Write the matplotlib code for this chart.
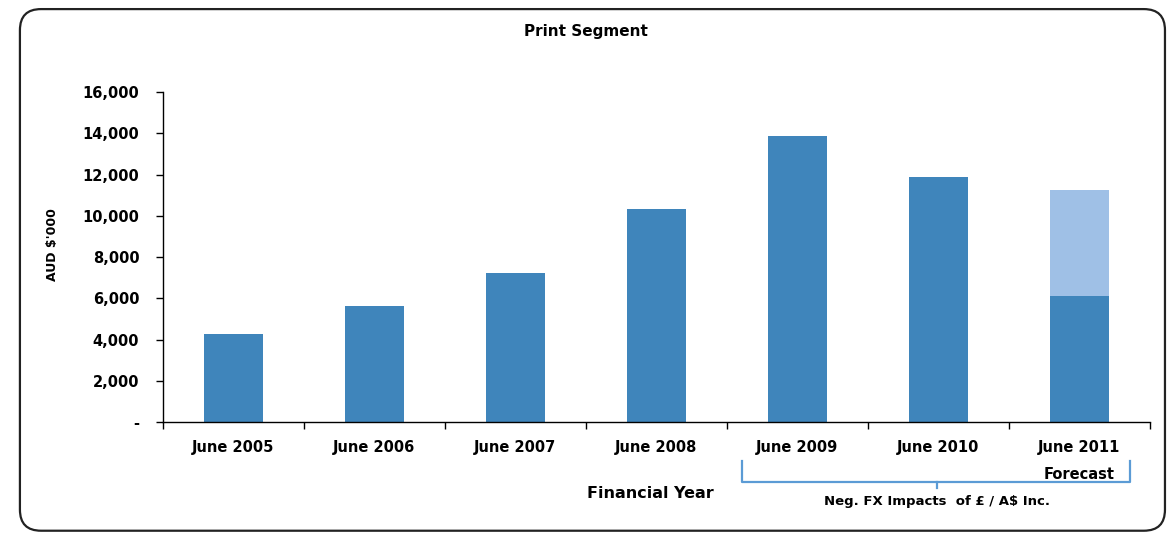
import matplotlib.pyplot as plt
from matplotlib.patches import FancyBboxPatch
from matplotlib.ticker import FuncFormatter

# Print segment revenue by financial year (AUD $'000)
years = ["June 2005", "June 2006", "June 2007", "June 2008",
         "June 2009", "June 2010", "June 2011"]
revenue = [4250, 5650, 7250, 10350, 13850, 11900, 6100]
forecast_extra = [0, 0, 0, 0, 0, 0, 5150]
y_ticks = [0, 2000, 4000, 6000, 8000, 10000, 12000, 14000, 16000]

base_color = "#3f85bb"
light_color = "#9fc0e6"
bracket_color = "#5b9bd5"

plt.rcParams["font.family"] = ["DejaVu Sans"]

fig = plt.figure(figsize=(11.72, 5.35), dpi=100)
ax = fig.add_axes([0.139, 0.211, 0.842, 0.617])

# Rounded frame around the whole chart
frame = FancyBboxPatch((0.017, 0.008), 0.977, 0.975,
                       boxstyle="round,pad=0,rounding_size=0.018",
                       transform=fig.transFigure, fill=False,
                       edgecolor="#222222", linewidth=1.6,
                       mutation_aspect=1172 / 535)
fig.patches.append(frame)

x = list(range(len(years)))
ax.bar(x, revenue, width=0.42, color=base_color, zorder=2)
ax.bar(x, forecast_extra, width=0.42, bottom=revenue,
       color=light_color, zorder=2)

ax.set_xlim(-0.5, len(years) - 0.5)
ax.set_ylim(0, 16000)
ax.set_yticks(y_ticks)
ax.yaxis.set_major_formatter(
    FuncFormatter(lambda v, p: "-" if v == 0 else f"{int(v):,}"))

# Category labels sit between boundary tick marks
ax.set_xticks([i - 0.5 for i in range(len(years) + 1)])
ax.set_xticklabels([])
ax.tick_params(axis="x", direction="out", length=5, width=1)
ax.tick_params(axis="y", direction="out", length=5, width=1,
               labelsize=10.5, pad=12)
for lbl in ax.get_yticklabels():
    lbl.set_fontweight("bold")
for i, name in enumerate(years):
    ax.text(i, -0.055, name, transform=ax.get_xaxis_transform(),
            ha="center", va="top", fontsize=10.5, fontweight="bold")
ax.text(6, -0.135, "Forecast", transform=ax.get_xaxis_transform(),
        ha="center", va="top", fontsize=10.5, fontweight="bold")

for side in ["top", "right"]:
    ax.spines[side].set_visible(False)
ax.spines["left"].set_linewidth(1)
ax.spines["bottom"].set_linewidth(1)

fig.text(0.5, 0.942, "Print Segment", ha="center", va="center",
         fontsize=11, fontweight="bold")
fig.text(0.045, 0.542, "AUD $'000", rotation=90, ha="center",
         va="center", fontsize=9, fontweight="bold")
fig.text(0.555, 0.077, "Financial Year", ha="center", va="center",
         fontsize=11.5, fontweight="bold")

# Bracket under the FX-affected years
bx0, bx1, by_top, by_bot, tip = 742, 1130, 461, 482, 937
px = lambda v: v / 1172
py = lambda v: 1 - v / 535
fig.add_artist(plt.Line2D([px(bx0), px(bx0), px(bx1), px(bx1)],
                          [py(by_top), py(by_bot), py(by_bot), py(by_top)],
                          color=bracket_color, linewidth=1.6,
                          transform=fig.transFigure))
fig.add_artist(plt.Line2D([px(tip), px(tip)], [py(by_bot), py(by_bot + 6)],
                          color=bracket_color, linewidth=1.6,
                          transform=fig.transFigure))
fig.text(px(tip), py(502), "Neg. FX Impacts  of £ / A$ Inc.",
         ha="center", va="center", fontsize=9.5, fontweight="bold")

fig.savefig("out.png", dpi=100)
